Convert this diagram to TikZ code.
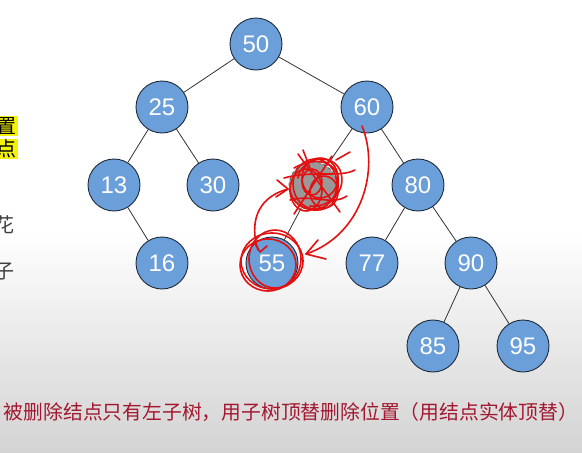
\documentclass[tikz,border=0pt]{standalone}
\usepackage{fontspec}
\setmainfont{Liberation Sans}
\newfontfamily\cjk{Noto Sans CJK SC}
\usetikzlibrary{arrows.meta}
\definecolor{nodefill}{HTML}{6A9FD9}
\definecolor{nodeedge}{HTML}{1F2A3A}
\definecolor{inkred}{HTML}{E41010}
\definecolor{captionred}{HTML}{A3172F}
\definecolor{bggrey}{HTML}{D3D3D3}
\definecolor{hl}{HTML}{F4F20A}
\begin{document}
\begin{tikzpicture}[x=1pt,y=-1pt,
  tnode/.style={circle,draw=nodeedge,line width=0.9pt,fill=nodefill,minimum size=52pt,inner sep=0pt,text=white,font=\fontsize{24}{24}\selectfont},
  delnode/.style={circle,draw=black!60,dashed,line width=1pt,fill=black!40,minimum size=48pt,inner sep=0pt},
  edge/.style={draw=black!80,line width=0.8pt},
  ink/.style={draw=inkred,line width=1.6pt,line cap=round,line join=round},
  sidetext/.style={font=\cjk\fontsize{20}{20}\selectfont,inner sep=0pt,anchor=east}]
\useasboundingbox (0,0) rectangle (582,453);
\fill[white] (0,0) rectangle (582,230);
\shade[top color=white,bottom color=bggrey] (0,230) rectangle (582,453);
% side text, cut off at the left edge as in the reference
\begin{scope}
\clip (0,0) rectangle (582,453);
\node[sidetext,fill=hl,inner sep=1pt] (s1) at (18,126) {置};
\node[sidetext,fill=hl,inner sep=1pt] (s2) at (18,149) {点};
\node[sidetext,text=black!75] (s3) at (15,225) {花};
\node[sidetext,text=black!75] (s4) at (15,272) {子};
\end{scope}
% nodes
\node[tnode] (n50) at (256,44) {50};
\node[tnode] (n25) at (162,107) {25};
\node[tnode] (n60) at (367,107) {60};
\node[tnode] (n13) at (114,185) {13};
\node[tnode] (n30) at (213,185) {30};
\node[delnode] (del) at (313,186) {};
\node[tnode] (n80) at (418,185) {80};
\node[tnode] (n16) at (162,263) {16};
\node[tnode] (n55) at (272,263) {55};
\node[tnode] (n77) at (372,263) {77};
\node[tnode] (n90) at (471,263) {90};
\node[tnode] (n85) at (433,346) {85};
\node[tnode] (n95) at (523,346) {95};
% edges
\path[edge] (n50) -- (n25);
\path[edge] (n50) -- (n60);
\path[edge] (n25) -- (n13);
\path[edge] (n25) -- (n30);
\path[edge] (n13) -- (n16);
\path[edge] (n60) -- (del);
\path[edge] (del) -- (n55);
\path[edge] (n60) -- (n80);
\path[edge] (n80) -- (n77);
\path[edge] (n80) -- (n90);
\path[edge] (n90) -- (n85);
\path[edge] (n90) -- (n95);
% red ink: scribble over the deleted node
\draw[ink] (315,184) ellipse (22pt and 25pt);
\draw[ink] (320,178) ellipse (18pt and 20pt);
\draw[ink] (306,190) ellipse (16pt and 21pt);
\draw[ink] (324,192) ellipse (14pt and 16pt);
\draw[ink] (312,182) ellipse (10pt and 13pt);
\draw[ink] (294,168) .. controls (322,152) and (352,166) .. (332,204) .. controls (320,216) and (293,210) .. (290,190);
\draw[ink] (298,178) .. controls (300,160) and (330,150) .. (340,170) .. controls (348,190) and (330,208) .. (310,206);
\draw[ink] (298,154) -- (340,212);
\draw[ink] (332,156) -- (294,214);
\draw[ink] (284,178) .. controls (312,170) and (340,178) .. (355,170);
\draw[ink] (290,200) .. controls (312,194) and (332,206) .. (347,196);
\draw[ink] (303,150) -- (310,168);
\draw[ink] (336,160) -- (350,152);
% arrow from 55 to the deleted node
\coordinate (a1s) at (258,250);
\coordinate (a1e) at (288,189);
\draw[ink] (a1s) .. controls (250,225) and (255,198) .. (a1e);
\draw[ink] (277,180) -- (a1e) -- (276,197);
\draw[ink] (254,242) -- (260,252) -- (267,246);
% arrow from 60 down to 55
\coordinate (a2s) at (362,126);
\coordinate (a2e) at (306,254);
\draw[ink] (a2s) .. controls (380,170) and (362,235) .. (a2e);
\draw[ink] (318,240) -- (a2e) -- (326,259);
% loops around 55
\draw[ink] (272,261) ellipse (31pt and 28pt);
\draw[ink] (268,265) ellipse (28pt and 26pt);
\draw[ink] (275,259) ellipse (26pt and 29pt);
% caption
\node[font=\cjk\fontsize{19.8}{20}\selectfont,text=captionred,inner sep=0pt] (cap) at (291,412) {被删除结点只有左子树，用子树顶替删除位置（用结点实体顶替）};
\end{tikzpicture}
\end{document}
